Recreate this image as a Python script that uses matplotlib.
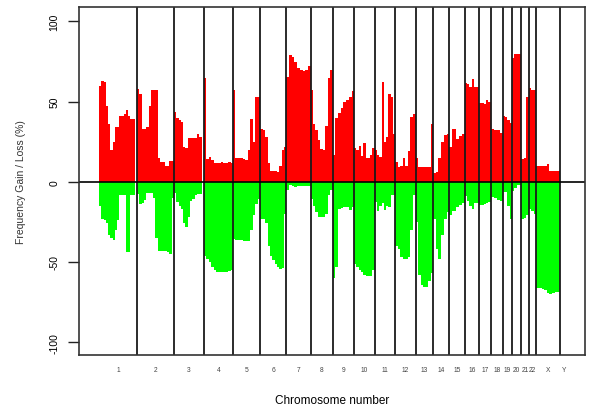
import numpy as np
import matplotlib
matplotlib.use("Agg")
import matplotlib.pyplot as plt

plt.rcParams['font.family'] = ['Liberation Sans', 'DejaVu Sans']

# chromosome names and lengths (Mb, hg19)
chroms = [str(i) for i in range(1, 23)] + ['X', 'Y']
lengths = [249.25, 243.2, 198.0, 191.15, 180.9, 171.1, 159.1, 146.4, 141.2,
           135.5, 135.0, 133.85, 115.17, 107.35, 102.5, 90.35, 81.2, 78.08,
           59.13, 63.03, 48.13, 51.3, 155.27, 59.37]

# frequency of gain (%) per chromosome, equal bins along each chromosome
gain = [
    [60, 63, 62, 47, 36, 20, 25, 34, 34, 41, 41, 42, 45, 41, 39, 39, 0],       # 1
    [57.7, 55, 33, 33, 34, 47, 57, 57, 57, 15, 12.5, 12.5, 10, 10, 13, 13],    # 2
    [43.7, 39.6, 38.5, 37.5, 22, 21, 27.5, 27.5, 27.5, 27.5, 29.5, 28, 0],     # 3
    [65, 14.5, 15.6, 13.5, 12, 12, 12, 12.5, 12, 12, 12.5, 12],                # 4
    [57, 15, 15, 15, 14, 13.5, 20, 39, 25, 53, 53],                            # 5
    [33, 32, 28, 12, 7, 6.6, 6.6, 6.4, 10, 20, 22],                            # 6
    [65.6, 79, 78, 75, 71, 69.5, 69.4, 70, 72.5],                              # 7
    [57, 36, 32, 26, 20.5, 20, 35, 65, 69.8],                                  # 8
    [17, 40, 42.7, 46, 49.5, 51, 53, 56.6],                                    # 9
    [20.8, 20, 22.5, 16, 24, 14.6, 14.6, 16.6, 20.8],                          # 10
    [19.8, 17, 15.6, 62, 25, 28, 55, 53, 30],                                  # 11
    [12.5, 9.4, 10, 15, 10, 19, 40.6, 42],                                     # 12
    [14.6, 9.4, 9.4, 9.4, 9.4, 9.4, 36],                                       # 13
    [5.2, 6, 15, 25, 29, 30],                                                  # 14
    [22, 33, 27, 28.5, 29.5],                                                  # 15
    [61.4, 61, 59.4, 64, 59.4, 59.4],                                          # 16
    [48.9, 48.9, 48.5, 51, 50],                                                # 17
    [32.9, 32.5, 32, 30.5],                                                    # 18
    [41, 40.5, 38.5, 36.4],                                                    # 19
    [77, 80, 80, 80],                                                          # 20
    [14.2, 15, 53],                                                            # 21
    [58.3, 57.5, 57],                                                          # 22
    [10, 10, 10, 10, 10.8, 6.8, 6.8, 6.8, 6.8],                                # X
    [0],                                                                       # Y
]

# frequency of loss (%) per chromosome, same bins
loss = [
    [-15, -23.5, -24, -26, -33, -35, -36.5, -30, -24, -8.4, -8.4, -8, -44, -44, -8.4, -8.4, 0],
    [-7.3, -14, -13, -11.5, -7, -7, -7, -10, -35, -43, -43, -43, -43, -44, -45, -10],
    [-7, -12.5, -15, -17, -26, -28, -22, -12, -11, -8.4, -7.3, -7.3, 0],
    [-46, -48, -50, -53, -55, -56, -56, -56, -56, -56, -55.5, -55],
    [-35.5, -36, -36, -36.5, -37, -37, -37, -30, -21, -14, -11],
    [-23, -23, -26, -40, -46, -49, -51, -53, -54.5, -54, -20],
    [-5, -2, -2.5, -3, -2.5, -2.5, -2.5, -2.5, -2.5],
    [-11, -15, -19, -22, -22, -22, -20, -8, -5],
    [-60, -53, -17, -16.5, -16, -15.6, -17.5, -16],
    [-51, -53, -55, -56, -58, -58.8, -58.8, -58.5, -55],
    [-12.5, -18.5, -15, -13, -17.5, -15, -16, -8, -8],
    [-40, -42, -47, -48, -48, -47, -30, -8.4],
    [-25, -58, -64.6, -65.6, -65.6, -62, -57],
    [-23, -42, -48, -33, -23, -19],
    [-21, -18, -16, -14.5, -13.5],
    [-9, -12, -15, -17, -13.5, -13],
    [-14.6, -14.6, -14, -13.5, -12.5],
    [-9.4, -10, -11.5, -12],
    [-6.3, -6.3, -15, -23],
    [-6, -4, -2.1, -2.1],
    [-23, -22.5, -21],
    [-17, -18, -20],
    [-66.3, -66.5, -67, -67.7, -69.5, -69.8, -69.2, -69, -68.8],
    [0],
]

starts = np.concatenate([[0], np.cumsum(lengths)[:-1]])
ends = np.cumsum(lengths)
centers = starts + np.array(lengths) / 2

fig = plt.figure(figsize=(5.9, 4.1), dpi=100)
ax = fig.add_axes([0.1339, 0.1317, 0.8576, 0.8488])

for s, L, g, l in zip(starts, lengths, gain, loss):
    n = len(g)
    w = L / n
    pos = s + np.arange(n) * w
    ax.bar(pos, g, width=w, align='edge', color='#ff0000', linewidth=0)
    ax.bar(pos, l, width=w, align='edge', color='#00ff00', linewidth=0)

# chromosome boundaries (1..X)
for e in ends[:-1]:
    ax.axvline(e, color='#1a1a1a', linewidth=1.3)
ax.axhline(0, color='black', linewidth=1.2)

ax.set_xlim(-133, 3201)
ax.set_ylim(-108, 109)

ax.set_yticks([-100, -50, 0, 50, 100])
ax.set_yticklabels(['-100', '-50', '0', '50', '100'], rotation=90, va='center', fontsize=7.5)
ax.tick_params(axis='y', length=8, width=1, pad=6, color='#222222')

ax.set_xticks(centers)
ax.set_xticklabels(chroms, fontsize=4.8, color='#444444')
ax.tick_params(axis='x', length=0, pad=8)

ax.set_ylabel('Frequency Gain / Loss (%)', fontsize=7.5, color='#333333')
ax.yaxis.set_label_coords(-0.104, 0.5)
ax.set_xlabel('Chromosome number', fontsize=8.5, va='center')
ax.xaxis.set_label_coords(0.5, -0.129)

for sp in ax.spines.values():
    sp.set_color('#333333')
    sp.set_linewidth(1.2)

fig.savefig('out.png', dpi=100)
